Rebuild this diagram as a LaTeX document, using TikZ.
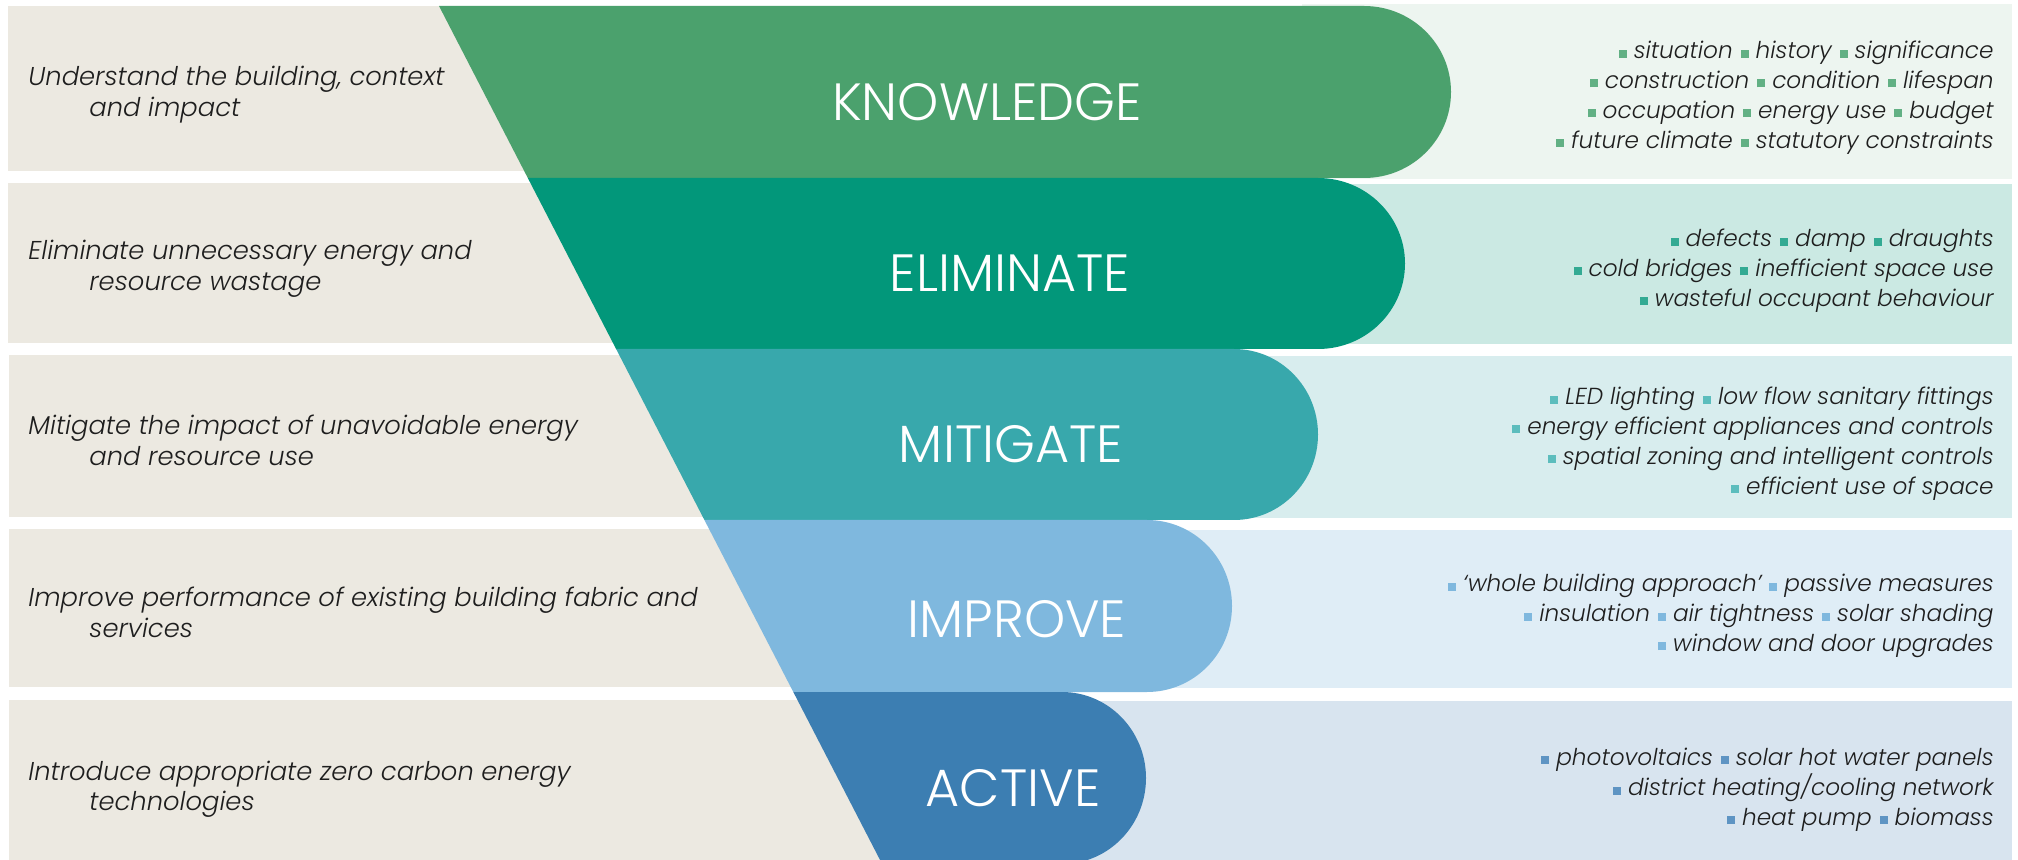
\documentclass[tikz,border=0pt]{standalone}
\usepackage{fontspec}
\usepackage{xcolor}
\IfFontExistsTF{Poppins Light}{\newfontfamily\headfnt{Poppins Light}}{\newfontfamily\headfnt{Poppins}}
\IfFontExistsTF{Poppins Light Italic}{\newfontfamily\bodyfnt{Poppins Light Italic}}{\newfontfamily\bodyfnt{Poppins Italic}}
\definecolor{beige}{HTML}{ECE9E1}
\definecolor{txt}{HTML}{1E1E1E}
\definecolor{cK}{HTML}{4BA16D}
\definecolor{cE}{HTML}{02977A}
\definecolor{cM}{HTML}{38A8AC}
\definecolor{cI}{HTML}{7FB8DE}
\definecolor{cA}{HTML}{3C7EB2}
\definecolor{lK}{HTML}{EDF5F0}
\definecolor{lE}{HTML}{CBE9E3}
\definecolor{lM}{HTML}{D8EDEE}
\definecolor{lI}{HTML}{DFEDF6}
\definecolor{lA}{HTML}{D8E4EF}
\definecolor{bK}{HTML}{62B084}
\definecolor{bE}{HTML}{33AA93}
\definecolor{bM}{HTML}{5CBDBD}
\definecolor{bI}{HTML}{7FB8DE}
\definecolor{bA}{HTML}{5E94C3}
\newcommand\bsq[1]{\unskip\hspace{4pt}\textcolor{#1}{\rule[0.6pt]{4pt}{4pt}}\hspace{3.5pt}\ignorespaces}
\tikzset{
  lefttxt/.style={anchor=base west, inner sep=0pt, text=txt, font=\bodyfnt\fontsize{12.9}{15.3}\selectfont},
  righttxt/.style={anchor=base east, inner sep=0pt, text=txt, font=\bodyfnt\fontsize{11.6}{14.85}\selectfont},
  head/.style={anchor=base, inner sep=0pt, text=white, font=\headfnt\fontsize{26.2}{27}\selectfont},
}
\begin{document}
\begin{tikzpicture}[x=0.5pt,y=-0.5pt]
\useasboundingbox (0,0) rectangle (2018,860);
\clip (0,0) rectangle (2018,860);
% left beige boxes
\fill[beige] (8,6) rectangle (620,171);
\fill[beige] (8,183) rectangle (700,343);
\fill[beige] (9,355) rectangle (780,517);
\fill[beige] (9,529) rectangle (860,687);
\fill[beige] (9,700) rectangle (940,860);
% right light boxes
\fill[lK] (1302,4) rectangle (2012,179);
\fill[lE] (1250,184) rectangle (2012,344);
\fill[lM] (1150,356) rectangle (2012,518);
\fill[lI] (1080,530) rectangle (2012,688);
\fill[lA] (1000,701) rectangle (2012,860);
% funnel bands
\fill[cK] (439,6) -- (1364,6) arc[start angle=-90, end angle=90, x radius=87, y radius=86] -- (527.8,178) -- cycle;
\fill[cE] (527.8,178) -- (1318,178) arc[start angle=-90, end angle=90, x radius=87, y radius=85.5] -- (616.1,349) -- cycle;
\fill[cM] (616.1,349) -- (1234,349) arc[start angle=-90, end angle=90, x radius=84, y radius=85.5] -- (704.4,520) -- cycle;
\fill[cI] (704.4,520) -- (1147,520) arc[start angle=-90, end angle=90, x radius=85, y radius=86] -- (793.3,692) -- cycle;
\fill[cA] (793.3,692) -- (1062,692) arc[start angle=-90, end angle=90, x radius=84, y radius=86] -- (882.1,864) -- cycle;
% headings
\node[head] (hK) at (987,121) {KNOWLEDGE};
\node[head] (hE) at (1010,292) {ELIMINATE};
\node[head] (hM) at (1011,463) {MITIGATE};
\node[head] (hI) at (1017,637) {IMPROVE};
\node[head] (hA) at (1013,806) {ACTIVE};
% left descriptions
\node[lefttxt] (dK) at (28,86) {\begin{tabular}[t]{@{}l@{}}Understand the building, context\\\hspace*{30.5pt}and impact\end{tabular}};
\node[lefttxt] (dE) at (28,260) {\begin{tabular}[t]{@{}l@{}}Eliminate unnecessary energy and\\\hspace*{30.5pt}resource wastage\end{tabular}};
\node[lefttxt] (dM) at (28,435) {\begin{tabular}[t]{@{}l@{}}Mitigate the impact of unavoidable energy\\\hspace*{30.5pt}and resource use\end{tabular}};
\node[lefttxt] (dI) at (28,607) {\begin{tabular}[t]{@{}l@{}}Improve performance of existing building fabric and\\\hspace*{30.5pt}services\end{tabular}};
\node[lefttxt] (dA) at (28,780) {\begin{tabular}[t]{@{}l@{}}Introduce appropriate zero carbon energy\\\hspace*{30.5pt}technologies\end{tabular}};
% right lists
\node[righttxt] (iK) at (1994,59) {\begin{tabular}[t]{@{}r@{}}
\bsq{bK}situation \bsq{bK}history \bsq{bK}significance\\
\bsq{bK}construction \bsq{bK}condition \bsq{bK}lifespan\\
\bsq{bK}occupation \bsq{bK}energy use \bsq{bK}budget\\
\bsq{bK}future climate \bsq{bK}statutory constraints\end{tabular}};
\node[righttxt] (iE) at (1994,247) {\begin{tabular}[t]{@{}r@{}}
\bsq{bE}defects \bsq{bE}damp \bsq{bE}draughts\\
\bsq{bE}cold bridges \bsq{bE}inefficient space use\\
\bsq{bE}wasteful occupant behaviour\end{tabular}};
\node[righttxt] (iM) at (1994,405) {\begin{tabular}[t]{@{}r@{}}
\bsq{bM}LED lighting \bsq{bM}low flow sanitary fittings\\
\bsq{bM}energy efficient appliances and controls\\
\bsq{bM}spatial zoning and intelligent controls\\
\bsq{bM}efficient use of space\end{tabular}};
\node[righttxt] (iI) at (1994,592) {\begin{tabular}[t]{@{}r@{}}
\bsq{bI}‘whole building approach’ \bsq{bI}passive measures\\
\bsq{bI}insulation \bsq{bI}air tightness \bsq{bI}solar shading\\
\bsq{bI}window and door upgrades\end{tabular}};
\node[righttxt] (iA) at (1994,765) {\begin{tabular}[t]{@{}r@{}}
\bsq{bA}photovoltaics \bsq{bA}solar hot water panels\\
\bsq{bA}district heating/cooling network\\
\bsq{bA}heat pump \bsq{bA}biomass\end{tabular}};
\end{tikzpicture}
\end{document}
